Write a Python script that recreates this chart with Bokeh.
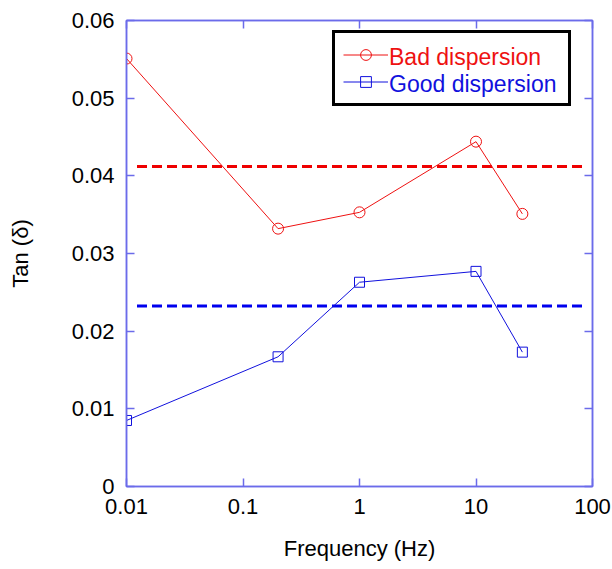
from bokeh.plotting import figure
from bokeh.models import LogAxis, LinearAxis, FixedTicker, Legend, LegendItem
from bokeh.embed import file_html
from bokeh.resources import INLINE

# ---- data ----
freq = [0.01, 0.2, 1, 10, 25]
bad_tan = [0.0551, 0.0332, 0.0353, 0.0444, 0.0351]
good_tan = [0.0085, 0.0167, 0.0263, 0.0277, 0.0173]
bad_mean = 0.0412
good_mean = 0.02325
mean_x = [0.0123, 86]
x_ticks = [0.01, 0.1, 1, 10, 100]
x_tick_labels = ["0.01", "0.1", "1", "10", "100"]
y_ticks = [0, 0.01, 0.02, 0.03, 0.04, 0.05, 0.06]
y_tick_labels = ["0", "0.01", "0.02", "0.03", "0.04", "0.05", "0.06"]

AX = "#6b6bea"
FONT = "Liberation Sans"

p = figure(width=612, height=569, x_axis_type="log",
           x_range=(0.01, 100), y_range=(0, 0.06),
           output_backend="svg", toolbar_location=None,
           min_border_left=126, min_border_right=20,
           min_border_top=20, min_border_bottom=83,
           x_axis_label="Frequency (Hz)", y_axis_label="Tan (δ)")
p.grid.visible = False
p.outline_line_color = AX
p.outline_line_width = 1.5

def style(ax, labels):
    ax.axis_line_color = AX
    ax.axis_line_width = 1.5
    ax.major_tick_line_color = AX
    ax.major_tick_line_width = 1.5
    ax.major_tick_in = 8
    ax.major_tick_out = 0
    ax.minor_tick_line_color = None
    ax.major_label_text_font = FONT
    ax.major_label_text_color = "black"
    if labels:
        ax.major_label_text_font_size = "22px"
        ax.major_label_standoff = 12
    else:
        ax.major_label_text_font_size = "5px"
        ax.major_label_text_alpha = 0
        ax.major_label_standoff = 0
    ax.axis_label_text_font = FONT
    ax.axis_label_text_font_size = "22px"
    ax.axis_label_text_font_style = "normal"
    ax.axis_label_text_color = "black"

xax = p.xaxis[0]
xax.ticker = FixedTicker(ticks=x_ticks, minor_ticks=[])
xax.major_label_overrides = {t: l for t, l in zip(x_ticks, x_tick_labels)}
style(xax, True)
xax.axis_label_standoff = 19

yax = p.yaxis[0]
yax.ticker = FixedTicker(ticks=y_ticks, minor_ticks=[])
yax.major_label_overrides = {t: l for t, l in zip(y_ticks, y_tick_labels)}
style(yax, True)
yax.axis_label_standoff = 36

top = LogAxis(ticker=FixedTicker(ticks=x_ticks, minor_ticks=[]))
style(top, False)
p.add_layout(top, "above")
right = LinearAxis(ticker=FixedTicker(ticks=y_ticks, minor_ticks=[]))
style(right, False)
p.add_layout(right, "right")

p.line(mean_x, [bad_mean, bad_mean], line_color="#ee0000", line_width=3, line_dash="10 5")
p.line(mean_x, [good_mean, good_mean], line_color="#0000ee", line_width=3, line_dash="10 5")

r1 = p.line(freq, bad_tan, line_color="#ee1111", line_width=1)
m1 = p.scatter(freq, bad_tan, marker="circle", size=11, fill_color=None,
               line_color="#ee1111", line_width=1)
r2 = p.line(freq, good_tan, line_color="#1111dd", line_width=1)
m2 = p.scatter(freq, good_tan, marker="square", size=10, fill_color=None,
               line_color="#1111dd", line_width=1)
# transparent twins, so that the coloured label legends add no second glyph
t1 = p.line(freq, bad_tan, line_alpha=0)
t2 = p.line(freq, good_tan, line_alpha=0)

ROW = 27
LX, LY = 206, 380

def make_legend(items, loc, border, color):
    lg = Legend(items=items, location=loc)
    lg.label_text_font = FONT
    lg.label_text_font_size = "23px"
    lg.label_text_line_height = 1.0
    lg.padding = 8
    lg.spacing = 0
    lg.margin = 0
    lg.glyph_width = 45
    lg.glyph_height = ROW
    lg.label_height = ROW
    lg.label_standoff = 4
    lg.border_line_width = 3
    if border:
        lg.border_line_color = "black"
        lg.border_line_alpha = 1
        lg.background_fill_color = "white"
        lg.background_fill_alpha = 1
        lg.label_text_alpha = 0
    else:
        lg.border_line_color = "white"
        lg.border_line_alpha = 0
        lg.background_fill_alpha = 0
        lg.label_text_color = color
    return lg

box = make_legend([LegendItem(label="Bad dispersion", renderers=[r1, m1]),
                   LegendItem(label="Good dispersion", renderers=[r2, m2])],
                  (LX, LY), True, None)
lg_bad = make_legend([LegendItem(label="Bad dispersion", renderers=[t1])],
                     (LX, LY + ROW), False, "#ee1111")
lg_good = make_legend([LegendItem(label="Good dispersion", renderers=[t2])],
                      (LX, LY), False, "#1111dd")
p.add_layout(box, "center")
p.add_layout(lg_bad, "center")
p.add_layout(lg_good, "center")

open("out.html", "w").write(file_html(p, INLINE))
